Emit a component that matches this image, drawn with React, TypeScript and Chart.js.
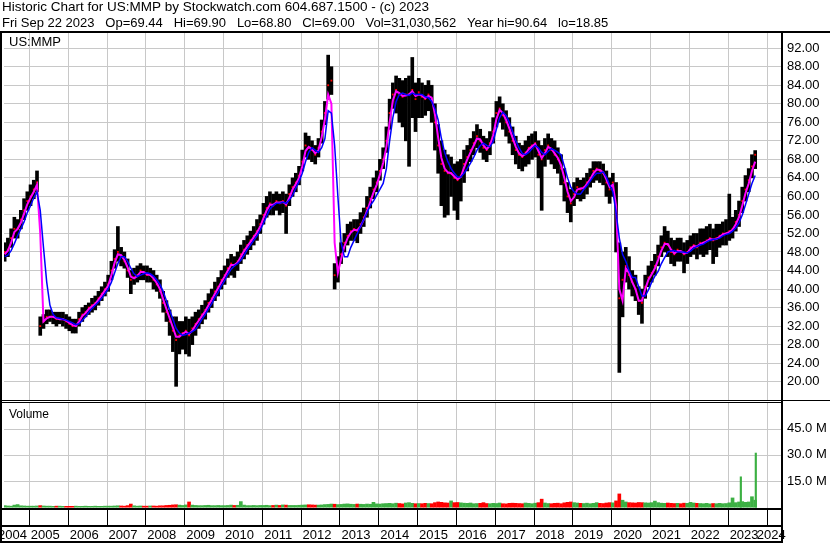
import React, { useEffect, useRef } from 'react';
import { Chart, registerables } from 'chart.js';

Chart.register(...registerables);

const W = 830;
const H = 543;
const FAMILY = '"Liberation Sans", Arial, sans-serif';

const TITLE_LINE_1 = 'Historic Chart for US:MMP by Stockwatch.com 604.687.1500 - (c) 2023';
const TITLE_LINE_2 = 'Fri Sep 22 2023   Op=69.44   Hi=69.90   Lo=68.80   Cl=69.00   Vol=31,030,562   Year hi=90.64   lo=18.85';
const SYMBOL = 'US:MMP';
const VOLUME_LABEL = 'Volume';

const FIRST_MONTH = '2004-05';
const YEAR_LABELS = ['2004', '2005', '2006', '2007', '2008', '2009', '2010', '2011', '2012', '2013', '2014', '2015', '2016', '2017', '2018', '2019', '2020', '2021', '2022', '2023', '2024'];
const PRICE_TICKS = [20, 24, 28, 32, 36, 40, 44, 48, 52, 56, 60, 64, 68, 72, 76, 80, 84, 88, 92];
const VOLUME_TICKS = [15, 30, 45];

// monthly high (one row per year, 2004-05 .. 2023-09)
const HIGH = [
  50, 51, 53, 55.5, 55, 57, 59.5, 61,
  62.5, 63.5, 65.5, 34, 34.5, 35.5, 35.5, 35, 35, 35, 35, 34.5,
  34, 33.5, 33.5, 35, 36, 36.5, 37, 38, 38.5, 39.5, 40.5, 41.5,
  43, 46, 48.5, 53.5, 49, 48, 46.5, 44, 44.5, 45, 45.5, 45,
  45, 44.5, 44, 43, 42, 39.5, 37.5, 35.5, 34, 34, 33, 33,
  34, 33.5, 34, 35, 35.5, 36.5, 37.5, 39, 40, 41.5, 42.5, 44,
  45, 46.5, 47.5, 47, 48, 49.5, 50.5, 51.5, 52.5, 53.5, 55, 56,
  58.5, 60, 61, 60.5, 61, 60.5, 61, 60.5, 62.5, 64, 65, 66.5,
  70, 73.7, 73, 72, 71, 72.5, 76.5, 80.5, 90.5, 88, 45.5, 47,
  50, 52, 54, 54.5, 55, 55, 56.5, 57.5, 60, 62, 64, 65.5,
  68, 70.5, 75, 81, 84.5, 86, 85.5, 85, 85.5, 86, 90, 84.5,
  85.5, 84.5, 84, 85, 84, 80, 75.5, 72, 70, 69, 68.5, 67,
  67.5, 68, 70, 71, 72.5, 74, 75.5, 74.5, 73, 72.5, 74, 77,
  80.5, 81.5, 80, 78.5, 77, 75, 73, 71.5, 71, 72, 73, 73.5,
  74, 72, 71, 72.5, 73.5, 72.5, 72, 70.5, 69, 66, 63, 61.5,
  63, 64, 63.5, 64, 65, 66, 67.5, 67.5, 67.5, 67, 65.5, 64,
  65, 63, 50, 48, 49, 47, 44, 43, 40.5, 40, 43, 45,
  46, 47.5, 49.5, 51.5, 53.5, 52.5, 51, 50.5, 51, 51, 50, 50.5,
  51.5, 52, 52, 53, 53, 53.5, 54, 53, 54, 54, 54.5, 55,
  60.5, 55.5, 57, 59, 62, 64.5, 66, 69, 69.9,
];

// monthly low
const LOW = [
  46, 47, 49, 51, 51, 53, 55, 57,
  58, 59.5, 61, 30, 31.5, 32.5, 33, 32.5, 32, 32.5, 32, 31.5,
  31, 30.5, 30.5, 32, 33, 34, 34.5, 35, 35.5, 36.5, 37.5, 38.5,
  39.5, 42, 44.5, 46, 45, 44.5, 42.5, 39, 41, 41.5, 42, 42,
  41.5, 41.5, 40, 39.5, 38, 35, 33, 30, 26.5, 19, 26, 27,
  26, 25.5, 28, 30, 31.5, 32.5, 33.5, 35, 36, 37.5, 38.5, 40,
  41, 42.5, 43, 42.5, 44, 45.5, 46.5, 47.5, 48.5, 49.5, 50.5, 52,
  54, 55.5, 56, 56, 57, 56, 56.5, 52, 58, 60, 61, 62.5,
  65.5, 68.5, 68, 67.5, 67, 68.5, 71.5, 75.5, 81, 82, 40, 41.5,
  45.5, 48, 49.5, 50.5, 50.5, 50, 52, 53.5, 55.5, 57.5, 59.5, 61,
  63.5, 66, 69.5, 74.5, 79, 78, 76, 75, 72, 66.5, 77, 74,
  77, 77, 77.5, 78.5, 76, 70, 65, 58, 55.5, 56, 60, 57,
  55, 59, 63, 65.5, 67.5, 69, 70.5, 69.5, 68, 67.5, 69, 71.5,
  75, 76, 74.5, 73, 71.5, 69, 67, 66, 65.5, 66.5, 67, 68,
  68.5, 64, 57, 66.5, 68, 67, 66, 65, 62.5, 59, 56.5, 54.5,
  58, 59.5, 59, 59.5, 60.5, 62, 63, 63.5, 63, 62.5, 60, 58.5,
  60, 48, 22, 34, 41.5, 40, 38.5, 37.5, 34.5, 32.6, 38, 40.5,
  41.5, 43, 45, 47, 48, 47, 45.5, 45, 46, 46, 43.5, 45.5,
  47, 47.5, 46.5, 47.5, 47, 47.5, 48.5, 45.5, 47, 49, 49.5, 49.5,
  50.5, 51, 52.5, 53.5, 56.5, 59, 61, 64, 66,
];

// monthly close
const CLOSE = [
  48, 48.5, 51, 53, 53, 55, 57, 59,
  60, 61.5, 63, 32, 33, 34, 34, 34, 33.5, 33.5, 33.5, 33,
  32.5, 32, 32, 33.5, 34.5, 35, 36, 36.5, 37, 38, 39, 40,
  41, 44, 46.5, 48, 47, 46, 44, 42, 42.5, 43, 44, 43.5,
  43, 43, 42, 41, 39.5, 37, 35, 33, 31, 29, 30, 30.5,
  31, 30, 31.5, 32.5, 33.5, 34.5, 35.5, 37, 38, 39.5, 40.5, 42,
  43, 44.5, 45.5, 45, 46, 47.5, 48.5, 49.5, 50.5, 51.5, 52.5, 54,
  56, 57.5, 58.5, 58, 59, 58.5, 59, 58, 60.5, 62, 63, 64.5,
  67.5, 71, 70.5, 70, 69, 70.5, 74, 78, 84, 85, 43, 44.5,
  47.5, 50, 51.5, 52.5, 53, 52.5, 54, 55.5, 57.5, 59.5, 61.5, 63,
  65.5, 68, 72, 78, 82, 83, 82, 81.5, 82, 82, 83, 81,
  82.5, 81.5, 81, 82, 81, 76, 71, 67, 65.5, 65, 65, 64,
  63.5, 64.5, 67, 68.5, 70, 71.5, 73, 72, 70.5, 70, 71.5, 74,
  78, 79, 77.5, 76, 74, 72, 70, 69, 68.5, 69.5, 70.5, 71,
  71.5, 69, 68, 70, 71, 70, 69, 68, 66, 63, 60, 58.5,
  60.5, 62, 61.5, 62, 63, 64, 65.5, 66, 65.5, 65, 63, 61.5,
  63, 58, 38, 42, 45, 43, 41.5, 40, 37.5, 37, 40.5, 42.5,
  43.5, 45, 47, 49, 50, 49.5, 48, 47.5, 48.5, 48, 47.5, 48,
  49, 49.5, 49, 50, 50, 50.5, 51, 50.5, 51, 51.5, 52, 52,
  52.5, 53, 54.5, 56, 59, 61.5, 63.5, 66.5, 69,
];

// short moving average (magenta)
const MA_FAST = [
  47.5, 48.3, 50, 52.3, 53, 54.3, 56.3, 58.3,
  59.7, 61, 62.5, 52, 33, 33.7, 34, 34, 33.7, 33.5, 33.5, 33.2,
  32.7, 32.2, 32, 33, 34.2, 34.8, 35.7, 36.3, 36.8, 37.7, 38.7, 39.7,
  40.7, 43, 45.7, 47.5, 47.3, 46.3, 44.7, 42.7, 42.3, 42.8, 43.7, 43.7,
  43.2, 43, 42.3, 41.3, 40, 37.8, 35.7, 33.7, 31.7, 29.7, 29.7, 30.3,
  30.8, 30.3, 31, 32.2, 33.2, 34.2, 35.2, 36.5, 37.7, 39, 40.2, 41.5,
  42.7, 44, 45.2, 45.2, 45.7, 47, 48.2, 49.2, 50.2, 51.2, 52.2, 53.5,
  55.3, 57, 58.2, 58.2, 58.7, 58.7, 58.8, 58.3, 59.7, 61.5, 62.7, 64,
  66.5, 69.8, 70.7, 70.2, 69.3, 70, 72.8, 76.7, 82, 80, 50, 43.5,
  46.5, 49.2, 51, 52.2, 52.8, 52.7, 53.5, 55, 56.8, 58.8, 60.8, 62.5,
  64.7, 67.2, 70.7, 76, 80.7, 82.7, 82.3, 81.7, 81.8, 82, 82.7, 81.7,
  82, 81.8, 81.2, 81.7, 81.3, 77.7, 72.7, 68.3, 66, 65.2, 65, 64.3,
  63.7, 64.2, 66.2, 68, 69.5, 71, 72.5, 72.3, 71, 70.2, 71, 73.2,
  76.7, 78.7, 78, 76.5, 74.7, 72.7, 70.7, 69.3, 68.7, 69.2, 70.2, 70.8,
  71.3, 69.8, 68.3, 69.3, 70.7, 70.3, 69.3, 68.3, 66.7, 64, 61, 59,
  59.8, 61.5, 61.7, 61.8, 62.7, 63.7, 65, 65.8, 65.7, 65.2, 63.7, 62,
  62.5, 58, 40, 37.5, 44.5, 43.5, 41.5, 40, 37.5, 37.5, 40, 42,
  43.2, 44.5, 46.3, 48.3, 49.7, 49.7, 48.5, 47.7, 48.2, 48.2, 47.7, 47.8,
  48.7, 49.3, 49.2, 49.7, 50, 50.3, 50.8, 50.7, 50.8, 51.3, 51.8, 52,
  52.3, 52.8, 54, 55.5, 58, 60.7, 62.8, 65.5, 67.5,
];

// long moving average (blue)
const MA_SLOW = [
  47, 47.3, 48.3, 49.8, 51.5, 53, 54.5, 56.5,
  58, 59.7, 61, 57, 49, 41.5, 36.5, 34.5, 33.8, 33.7, 33.5, 33.3,
  33, 32.7, 32.3, 32.5, 33.2, 34, 35, 35.8, 36.5, 37.2, 38, 39,
  40, 41.5, 43.5, 45.5, 47, 47, 46, 44.5, 43.3, 42.7, 43, 43.3,
  43.5, 43.3, 42.8, 42, 41, 39.5, 37.5, 35.5, 33.5, 31.5, 30.5, 30,
  30.2, 30.5, 30.8, 31.3, 32.3, 33.5, 34.5, 35.7, 36.8, 38.2, 39.3, 40.7,
  41.8, 43.2, 44.3, 45, 45.5, 46.2, 47.3, 48.5, 49.5, 50.5, 51.5, 52.7,
  54.2, 55.8, 57.3, 58, 58.5, 58.5, 58.8, 58.5, 59.2, 60.2, 61.8, 63.2,
  65, 67.5, 69.5, 70.5, 70, 69.5, 70.5, 72.5, 78.5, 78, 71, 60,
  50, 47, 47, 49, 50.5, 52, 53.5, 55, 56.5, 58, 59, 60.3,
  61.5, 62.8, 66, 72, 77, 80.5, 82, 82.3, 82, 81.8, 82.3, 82,
  82, 82, 81.5, 81.3, 80.5, 79, 76.5, 72.5, 69.5, 67.5, 66, 65,
  64.2, 64.2, 65, 66, 67.2, 68.5, 70, 71, 71.5, 71, 70.7, 71.8,
  74.5, 77, 78.2, 77.5, 76, 74, 72, 70.5, 69.3, 69, 69.5, 70.3,
  71, 70.5, 69.5, 69, 69.7, 70.3, 70, 69.5, 69, 66.5, 64, 62,
  61, 60.5, 60.5, 61.5, 62.3, 63.3, 64.3, 65, 65, 65.3, 64.2, 62.5,
  61, 56.5, 51, 47.5, 46, 44, 42.5, 42.5, 40.5, 38.5, 38.5, 39.8,
  41.5, 42.8, 43.8, 45.5, 46.8, 48, 48.2, 48.3, 48, 48, 48, 47.8,
  48.2, 48.8, 49.2, 49.5, 49.7, 50.2, 50.5, 50.7, 50.8, 51, 51.5, 51.8,
  52, 52.5, 53.2, 54.3, 56, 58.2, 60.5, 62.8, 64.5,
];

// monthly typical daily volume, millions
const VOLUME = [
  0.9, 0.7, 0.6, 1.2, 1.5, 0.8, 0.7, 0.6,
  0.6, 0.6, 0.7, 0.9, 0.7, 0.6, 0.6, 0.5, 0.6, 0.6, 0.5, 0.5,
  0.5, 0.5, 0.6, 0.5, 0.5, 0.6, 0.5, 0.5, 0.6, 0.5, 0.5, 0.6,
  0.6, 0.6, 0.7, 0.8, 0.7, 0.6, 0.9, 1.8, 0.8, 0.6, 0.7, 0.6,
  0.6, 0.7, 0.7, 0.6, 0.8, 0.8, 1.0, 1.1, 1.3, 1.4, 1.2, 1.0,
  1.3, 3.0, 1.2, 1.0, 0.9, 0.9, 1.0, 1.1, 0.9, 0.9, 1.0, 0.9,
  0.9, 1.0, 1.2, 1.0, 1.1, 3.2, 1.2, 0.9, 0.9, 1.0, 0.9, 1.0,
  1.0, 1.1, 0.9, 1.0, 1.2, 1.0, 1.3, 1.2, 1.0, 1.0, 1.0, 1.1,
  1.2, 1.3, 1.4, 1.3, 1.2, 1.2, 1.3, 1.5, 1.6, 1.8, 1.7, 1.5,
  1.6, 1.8, 1.9, 1.7, 1.6, 1.8, 1.7, 1.6, 1.8, 1.7, 2.8, 1.9,
  1.8, 2.0, 2.1, 2.2, 2.0, 2.3, 2.1, 1.9, 2.4, 2.6, 2.2, 2.0,
  2.1, 2.0, 2.2, 2.1, 2.0, 2.6, 3.0, 2.8, 2.5, 2.4, 3.6, 2.6,
  2.7, 2.5, 2.3, 2.2, 2.4, 2.0, 2.1, 2.2, 2.6, 2.1, 2.0, 2.2,
  2.1, 2.4, 2.0, 1.9, 2.2, 2.3, 2.2, 2.1, 2.0, 2.4, 2.2, 2.0,
  2.3, 2.6, 4.6, 2.4, 2.1, 2.0, 2.2, 2.3, 2.0, 2.5, 2.8, 3.0,
  2.6, 2.4, 2.2, 2.1, 2.3, 2.0, 2.2, 2.6, 2.2, 2.1, 2.4, 2.6,
  2.5, 3.6, 7.6, 4.0, 3.0, 2.6, 2.5, 2.4, 2.7, 2.6, 2.5, 2.4,
  2.6, 3.5, 2.6, 2.3, 2.2, 2.4, 2.2, 2.1, 2.2, 2.0, 2.3, 2.2,
  2.8, 2.4, 2.2, 2.1, 2.0, 2.2, 1.9, 2.1, 2.0, 2.2, 2.0, 2.1,
  2.5, 5.3, 2.6, 3.0, 3.2, 2.8, 3.0, 6.0, 4.0,
];

// single-day volume spikes, millions
const SPIKE_DATES = ['2023-05-03', '2023-09-22'];
const SPIKE_VOLUMES = [17.4, 31.0];

// axis ranges chosen to match the frame of the original
const X_MIN = 2004.358;
const X_MAX = 2024.399;
const PRICE_MIN = -7.27;
const PRICE_MAX = 95.28;
const VOL_MIN = -0.46;
const VOL_MAX = 271.5;

const GREEN = '#3cb043';
const RED = '#ff0000';
const GRID = '#c8c8c8';

const [FY, FM] = FIRST_MONTH.split('-').map(Number);
const monthT = (i: number) => FY + (FM - 1 + i + 0.5) / 12;
const dateT = (s: string) => {
  const [y, m, d] = s.split('-').map(Number);
  return y + (m - 1) / 12 + (d - 1) / 365;
};

const framePlugin = {
  id: 'stockwatchFrame',
  beforeDraw(chart: any) {
    const { ctx } = chart;
    ctx.save();
    ctx.fillStyle = '#fff';
    ctx.fillRect(0, 0, W, H);
    ctx.restore();
  },
  beforeDatasetsDraw(chart: any) {
    const { ctx, chartArea: ca } = chart;
    const x = chart.scales.x;
    const yv = chart.scales.yv;
    ctx.save();
    ctx.strokeStyle = GRID;
    ctx.lineWidth = 1;
    ctx.beginPath();
    YEAR_LABELS.forEach((lab) => {
      const yr = Number(lab);
      if (yr <= X_MIN || yr >= X_MAX) return;
      const px = Math.round(x.getPixelForValue(yr)) + 0.5;
      ctx.moveTo(px, 33);
      ctx.lineTo(px, 400);
      ctx.moveTo(px, 403);
      ctx.lineTo(px, 508);
    });
    VOLUME_TICKS.forEach((v) => {
      const py = Math.round(yv.getPixelForValue(v)) + 0.5;
      ctx.moveTo(ca.left, py);
      ctx.lineTo(ca.right, py);
    });
    ctx.stroke();
    ctx.restore();
  },
  afterDraw(chart: any) {
    const { ctx } = chart;
    const x = chart.scales.x;
    const yv = chart.scales.yv;
    ctx.save();
    ctx.fillStyle = '#000';
    // frame lines
    ctx.fillRect(0, 31, W, 2);
    ctx.fillRect(0, 31, 2, H - 31);
    ctx.fillRect(781, 31, 2, H - 31);
    ctx.fillRect(0, 400, W, 1);
    ctx.fillRect(0, 402, 782, 1);
    ctx.fillRect(0, 508, 782, 2);
    ctx.fillRect(0, 525, 782, 2);
    ctx.fillRect(0, 541, 782, 2);
    YEAR_LABELS.forEach((lab) => {
      const yr = Number(lab);
      if (yr <= X_MIN || yr >= X_MAX) return;
      const px = Math.round(x.getPixelForValue(yr));
      ctx.fillRect(px, 510, 1, 15);
    });
    // texts
    ctx.textAlign = 'left';
    ctx.textBaseline = 'alphabetic';
    ctx.font = `13.5px ${FAMILY}`;
    ctx.fillText(TITLE_LINE_1, 2, 11);
    ctx.font = `13px ${FAMILY}`;
    ctx.fillText(TITLE_LINE_2, 2, 27);
    ctx.fillText(SYMBOL, 9, 46);
    ctx.font = `12px ${FAMILY}`;
    ctx.fillText(VOLUME_LABEL, 9, 418);
    ctx.font = `13px ${FAMILY}`;
    ctx.textAlign = 'center';
    YEAR_LABELS.forEach((lab) => {
      const yr = Number(lab);
      const l = Math.max(x.getPixelForValue(yr), 2);
      const r = Math.min(x.getPixelForValue(yr + 1), 782);
      if (r <= l) return;
      ctx.fillText(lab, (l + r) / 2 - 3, 539);
    });
    ctx.textAlign = 'left';
    ctx.textBaseline = 'middle';
    VOLUME_TICKS.forEach((v) => {
      ctx.fillText(`${v.toFixed(1)} M`, 787, yv.getPixelForValue(v));
    });
    ctx.restore();
  },
};

export default function App() {
  const ref = useRef<HTMLCanvasElement | null>(null);

  useEffect(() => {
    const canvas = ref.current;
    if (!canvas) return;
    const volColors = VOLUME.map((_, i) => (i === 0 || CLOSE[i] >= CLOSE[i - 1] ? GREEN : RED));
    const chart = new Chart(canvas, {
      type: 'line',
      data: {
        datasets: [
          {
            type: 'line',
            label: 'slow',
            data: MA_SLOW.map((v, i) => ({ x: monthT(i), y: v })),
            borderColor: '#0000ff',
            borderWidth: 1.5,
            pointRadius: 0,
            yAxisID: 'y',
            order: 1,
          },
          {
            type: 'line',
            label: 'fast',
            data: MA_FAST.map((v, i) => ({ x: monthT(i), y: v })),
            borderColor: '#ff00ff',
            borderWidth: 2,
            pointRadius: 0,
            yAxisID: 'y',
            order: 2,
          },
          {
            type: 'line',
            label: 'close',
            data: CLOSE.map((v, i) => ({ x: monthT(i), y: v })),
            showLine: false,
            pointStyle: 'rect',
            pointRadius: 1.3,
            pointBackgroundColor: RED,
            pointBorderWidth: 0,
            yAxisID: 'y',
            order: 3,
          },
          {
            type: 'bar',
            label: 'range',
            data: HIGH.map((h, i) => ({ x: monthT(i), y: [LOW[i], h] })),
            backgroundColor: '#000',
            barThickness: 3,
            grouped: false,
            yAxisID: 'y',
            order: 4,
          },
          {
            type: 'bar',
            label: 'volume',
            data: VOLUME.map((v, i) => ({ x: monthT(i), y: v })),
            backgroundColor: volColors,
            barThickness: 3,
            grouped: false,
            yAxisID: 'yv',
            order: 5,
          },
          {
            type: 'bar',
            label: 'spikes',
            data: SPIKE_DATES.map((d, i) => ({ x: dateT(d), y: SPIKE_VOLUMES[i] })),
            backgroundColor: GREEN,
            barThickness: 1.5,
            grouped: false,
            yAxisID: 'yv',
            order: 5,
          },
        ] as any,
      },
      options: {
        responsive: false,
        animation: false,
        devicePixelRatio: 1,
        events: [],
        layout: { padding: { left: 2, top: 33, right: 0, bottom: 35 } },
        plugins: { legend: { display: false }, tooltip: { enabled: false } },
        scales: {
          x: { type: 'linear', min: X_MIN, max: X_MAX, display: false, offset: false },
          y: {
            type: 'linear',
            position: 'right',
            min: PRICE_MIN,
            max: PRICE_MAX,
            afterBuildTicks: (s: any) => {
              s.ticks = PRICE_TICKS.map((v) => ({ value: v }));
            },
            afterFit: (s: any) => {
              s.width = 48;
            },
            ticks: {
              callback: (v: any) => Number(v).toFixed(2),
              color: '#000',
              font: { family: FAMILY, size: 13 },
              padding: 5,
              autoSkip: false,
            },
            grid: { color: GRID, lineWidth: 1, drawTicks: false },
            border: { display: false },
          },
          yv: { type: 'linear', position: 'right', display: false, min: VOL_MIN, max: VOL_MAX },
        } as any,
      },
      plugins: [framePlugin],
    });
    return () => chart.destroy();
  }, []);

  return (
    <div style={{ position: 'absolute', left: 0, top: 0, width: W, height: H, background: '#fff' }}>
      <canvas ref={ref} width={W} height={H} style={{ display: 'block', width: W, height: H }} />
    </div>
  );
}
